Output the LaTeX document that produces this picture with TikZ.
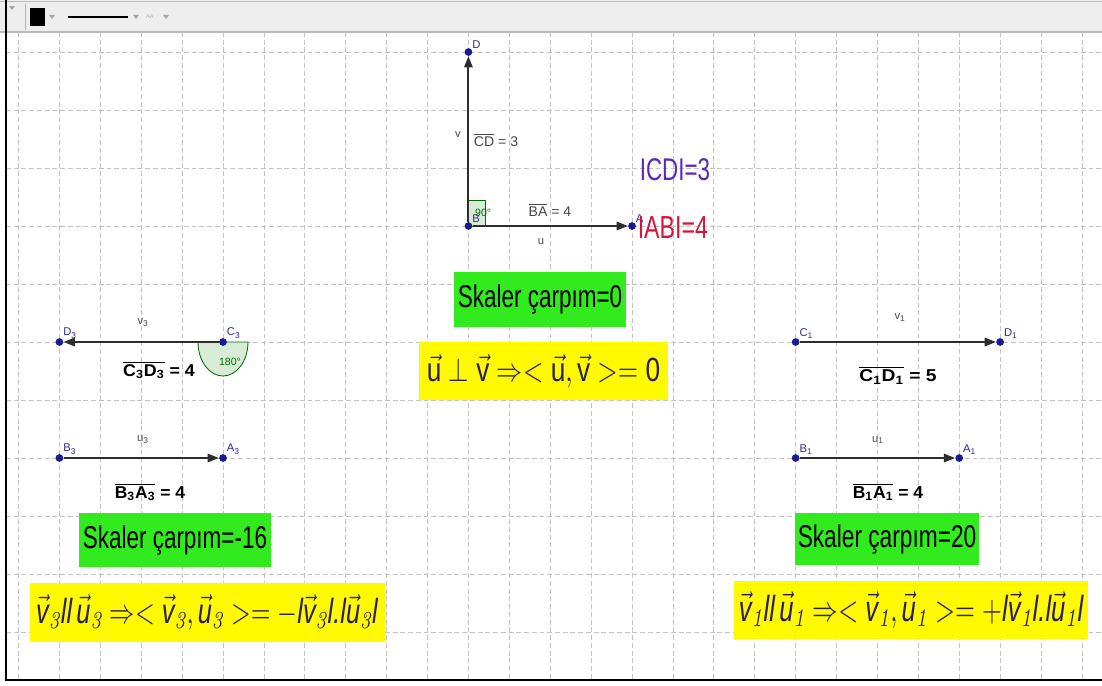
\documentclass[tikz,border=0pt]{standalone}
\usepackage{fontspec}
\setsansfont{Liberation Sans}
\usetikzlibrary{arrows.meta,positioning}
\definecolor{gridgray}{RGB}{195,195,195}
\definecolor{barfill}{RGB}{238,238,238}
\definecolor{barline}{RGB}{185,185,185}
\definecolor{ptblue}{RGB}{25,25,150}
\definecolor{lblblue}{RGB}{45,45,140}
\definecolor{vecgray}{RGB}{45,45,45}
\definecolor{txtgray}{RGB}{70,70,70}
\definecolor{anglegreen}{RGB}{0,110,0}
\definecolor{anglefill}{RGB}{215,235,215}
\definecolor{cdcol}{RGB}{90,40,190}
\definecolor{abcol}{RGB}{215,20,60}
\definecolor{boxgreen}{RGB}{50,235,30}
\definecolor{boxyellow}{RGB}{255,250,0}
\definecolor{formcol}{RGB}{45,30,90}
\pgfdeclarelayer{bg}
\pgfsetlayers{bg,main}
\newcommand{\vsf}[1]{\vec{\mbox{\sffamily\itshape #1}}}
\newcommand{\vup}[1]{\vec{\mbox{\sffamily #1}}}
\newcommand{\lbr}[1]{\mbox{\sffamily\itshape #1}}
\tikzset{
  gridline/.style={draw=gridgray,dash pattern=on 3.5pt off 2pt,line width=0.5pt},
  pt/.style={circle,fill=ptblue,inner sep=0pt,minimum size=5.5pt},
  ptlbl/.style={font=\sffamily\fontsize{8}{9}\selectfont,text=lblblue,inner sep=0.5pt},
  vec/.style={draw=vecgray,line width=1.3pt,-{Triangle[length=8pt,width=6pt]}},
  veclbl/.style={font=\sffamily\fontsize{8}{9}\selectfont,text=txtgray,inner sep=0pt},
  lenlbl/.style={font=\sffamily\fontsize{10}{12}\selectfont,text=txtgray,inner sep=0pt},
  boldlbl/.style={font=\sffamily\bfseries,text=black,inner sep=0pt},
  anglemark/.style={draw=anglegreen,fill=anglefill,line width=0.6pt},
  anglelbl/.style={font=\sffamily\fontsize{7.5}{9}\selectfont,text=anglegreen,inner sep=0pt},
  greenbox/.style={fill=boxgreen,inner sep=0pt,font=\sffamily,text=black},
  yellowbox/.style={fill=boxyellow,inner sep=0pt,font=\sffamily,text=formcol},
}
\begin{document}
\begin{tikzpicture}[x=1.0225cm,y=1.45cm]
\useasboundingbox (-0.4523,-10.914) rectangle (26.491,0.8966);
\begin{pgfonlayer}{bg}
\fill[barfill] (-0.4523,0.8966) rectangle (26.491,0.3448);
\draw[barline,line width=1pt] (-0.4523,0.3448) -- (26.491,0.3448);
\draw[barline,line width=1pt] (-0.4523,0.87) -- (26.491,0.87);
\foreach \k in {0,...,26} {
  \draw[gridline] (\k,0.3448) -- (\k,-10.81);
}
\foreach \j in {0,...,10} {
  \draw[gridline] (-0.3056,-\j) -- (26.491,-\j);
}
\end{pgfonlayer}
% toolbar
\fill[gray!70] (-0.232,0.793) -- (-0.086,0.793) -- (-0.159,0.724) -- cycle;
\draw[gray!60] (0.159,0.828) -- (0.159,0.379);
\fill[black] (0.281,0.759) rectangle (0.648,0.448);
\fill[gray!70] (0.746,0.638) -- (0.892,0.638) -- (0.819,0.569) -- cycle;
\draw[black,line width=1.4pt] (1.210,0.603) -- (2.677,0.603);
\fill[gray!70] (2.800,0.638) -- (2.946,0.638) -- (2.873,0.569) -- cycle;
\node[font=\sffamily\fontsize{4}{4}\selectfont,text=gray!60] (aa) at (3.21,0.603) {AA};
\fill[gray!70] (3.533,0.638) -- (3.680,0.638) -- (3.606,0.569) -- cycle;
\draw[line width=1.5pt] (-0.3056,0.8966) -- (-0.3056,-10.82) -- (26.491,-10.82);
% points
\node[pt,label={[ptlbl]45:D}] (D) at (11,0) {};
\node[pt,label={[ptlbl]45:B}] (B) at (11,-3) {};
\node[pt,label={[ptlbl]45:A}] (A) at (15,-3) {};
\node[pt,label={[ptlbl]45:D\textsubscript{3}}] (D3) at (1,-5) {};
\node[pt,label={[ptlbl]45:C\textsubscript{3}}] (C3) at (5,-5) {};
\node[pt,label={[ptlbl]45:B\textsubscript{3}}] (B3) at (1,-7) {};
\node[pt,label={[ptlbl]45:A\textsubscript{3}}] (A3) at (5,-7) {};
\node[pt,label={[ptlbl]45:C\textsubscript{1}}] (C1) at (19,-5) {};
\node[pt,label={[ptlbl]45:D\textsubscript{1}}] (D1) at (24,-5) {};
\node[pt,label={[ptlbl]45:B\textsubscript{1}}] (B1) at (19,-7) {};
\node[pt,label={[ptlbl]45:A\textsubscript{1}}] (A1) at (23,-7) {};
\begin{pgfonlayer}{bg}
\draw[anglemark] (B.center) rectangle ++(0.425cm,0.65cm);
\draw[anglemark] ([xshift=-0.625cm]C3.center) arc[start angle=180,end angle=360,x radius=0.625cm,y radius=0.85cm] -- cycle;
\end{pgfonlayer}
\draw[vec] (B) -- (D);
\draw[vec] (B) -- (A);
\draw[vec] (C3) -- (D3);
\draw[vec] (B3) -- (A3);
\draw[vec] (C1) -- (D1);
\draw[vec] (B1) -- (A1);
% center
\node[veclbl] (lv) at (10.746,-1.43) {v};
\node[lenlbl] (lCD) at (11.675,-1.517) {$\overline{\mbox{CD}}$ = 3};
\node[lenlbl] (lBA) at (12.995,-2.724) {$\overline{\mbox{BA}}$ = 4};
\node[veclbl] (lu) at (12.775,-3.276) {u};
\node[anglelbl] (a90) at (11.36,-2.776) {90°};
\node[font=\sffamily,text=cdcol,inner sep=0pt] (nCD) at (16.05,-2.034) {\resizebox{50pt}{15.6pt}{ICDI=3}};
\node[font=\sffamily,text=abcol,inner sep=0pt] (nAB) at (16.0,-3.034) {\resizebox{50pt}{15.6pt}{IABI=4}};
\node[greenbox,minimum width=4.3cm,minimum height=1.375cm] (s0) at (12.751,-4.267) {\resizebox*{117pt}{21pt}{Skaler çarpım=0}};
\node[yellowbox,minimum width=6.225cm,minimum height=1.45cm] (f0) at (12.836,-5.5)
  {\resizebox*{166pt}{24pt}{$\vup{u}\perp\vup{v}\Rightarrow<\vup{u},\vup{v}>=\mbox{\sffamily 0}$}};
% left
\node[veclbl] (lv3) at (3.046,-4.672) {v\textsubscript{3}};
\node[boldlbl] (lC3D3) at (3.435,-5.483) {\resizebox*{51pt}{12.8pt}{$\overline{\mbox{C\textsubscript{3}D\textsubscript{3}}}$ = 4}};
\node[anglelbl] (a180) at (5.171,-5.345) {180°};
\node[veclbl] (lu3) at (3.044,-6.69) {u\textsubscript{3}};
\node[boldlbl] (lB3A3) at (3.215,-7.586) {\resizebox*{50pt}{12.8pt}{$\overline{\mbox{B\textsubscript{3}A\textsubscript{3}}}$ = 4}};
\node[greenbox,minimum width=4.8cm,minimum height=1.35cm] (s3) at (3.826,-8.414) {\resizebox*{131pt}{21pt}{Skaler çarpım=-16}};
\node[yellowbox,minimum width=8.875cm,minimum height=1.475cm] (f3) at (4.609,-9.664)
  {\resizebox*{243pt}{25pt}{$\vsf{v}_{\mathit{3}}\lbr{ll}\,\vsf{u}_{\mathit{3}}\Rightarrow<\vsf{v}_{\mathit{3}},\vsf{u}_{\mathit{3}}>=-\lbr{l}\vsf{v}_{\mathit{3}}\lbr{l.l}\vsf{u}_{\mathit{3}}\lbr{l}$}};
% right
\node[veclbl] (lv1) at (21.553,-4.586) {v\textsubscript{1}};
\node[boldlbl] (lC1D1) at (21.504,-5.569) {\resizebox*{55pt}{12.8pt}{$\overline{\mbox{C\textsubscript{1}D\textsubscript{1}}}$ = 5}};
\node[veclbl] (lu1) at (21.015,-6.69) {u\textsubscript{1}};
\node[boldlbl] (lB1A1) at (21.259,-7.586) {\resizebox*{50pt}{12.8pt}{$\overline{\mbox{B\textsubscript{1}A\textsubscript{1}}}$ = 4}};
\node[greenbox,minimum width=4.6cm,minimum height=1.3cm] (s1) at (21.235,-8.4) {\resizebox*{127pt}{21pt}{Skaler çarpım=20}};
\node[yellowbox,minimum width=8.85cm,minimum height=1.45cm] (f1) at (21.821,-9.621)
  {\resizebox*{245pt}{26pt}{$\vsf{v}_{\mathit{1}}\lbr{ll}\,\vsf{u}_{\mathit{1}}\Rightarrow<\vsf{v}_{\mathit{1}},\vsf{u}_{\mathit{1}}>=+\lbr{l}\vsf{v}_{\mathit{1}}\lbr{l.l}\vsf{u}_{\mathit{1}}\lbr{l}$}};
\end{tikzpicture}
\end{document}
